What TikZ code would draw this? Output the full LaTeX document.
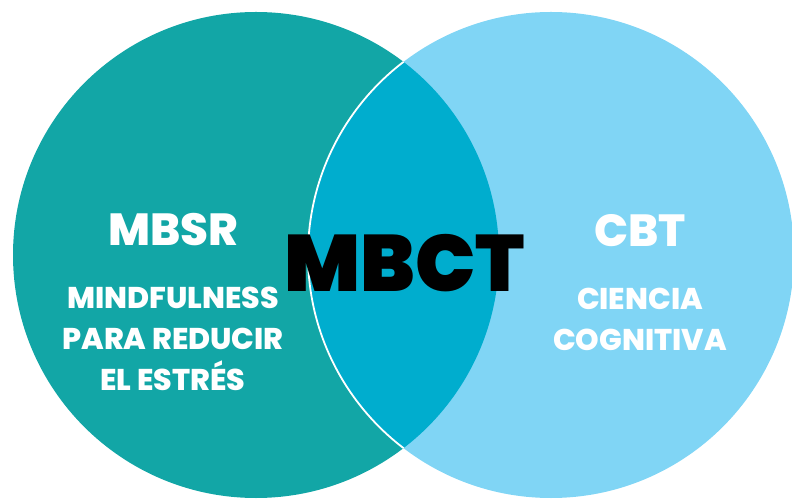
\documentclass[tikz,border=0pt]{standalone}
\usepackage{fontspec}
\setmainfont{Poppins}
\newfontfamily\heavyfont{Poppins ExtraBold}
\newfontfamily\blackfont{Poppins Black}
\definecolor{tealfill}{HTML}{12A6A6}
\definecolor{skyfill}{HTML}{80D5F5}
\definecolor{lensfill}{HTML}{00ADCE}

\begin{document}
\begin{tikzpicture}[x=1pt, y=-1pt, every node/.style={inner sep=0pt},
  title/.style={text=white, font=\heavyfont\fontsize{45}{45}\selectfont},
  body/.style={text=white, align=center, font=\heavyfont\fontsize{30}{41}\selectfont},
  centre/.style={text=black, font=\blackfont\fontsize{80}{80}\selectfont}]
\useasboundingbox (0,0) rectangle (792,502);
% Circles
\coordinate (left) at (256,255);
\coordinate (right) at (551,255);
\fill[tealfill] (left) circle (243);
\fill[skyfill] (right) circle (243);
\begin{scope}
  \clip (left) circle (243);
  \fill[lensfill] (right) circle (243);
  \draw[white, line width=1.8pt] (right) circle (243);
\end{scope}

% Labels
\node[title, anchor=base] (mbsr) at (173,246) {MBSR};
\node[body] (mbsrtext) at (173,339) {MINDFULNESS\\PARA REDUCIR\\EL ESTRÉS};
\node[centre, anchor=base] (mbct) at (405,292) {MBCT};
\node[title, anchor=base] (cbt) at (640,247) {CBT};
\node[body] (cbttext) at (640,319) {CIENCIA\\COGNITIVA};
\end{tikzpicture}
\end{document}
